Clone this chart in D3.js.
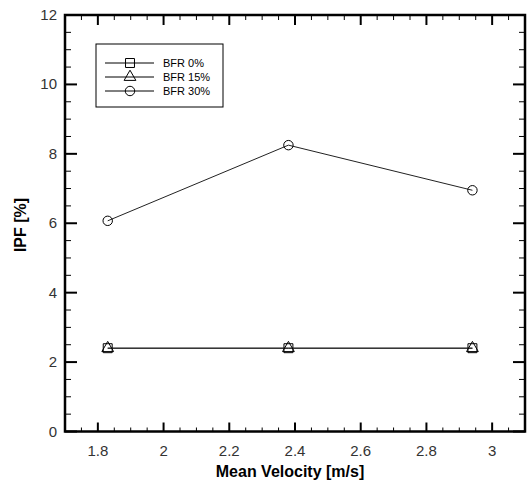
<!DOCTYPE html>
<html>
<head>
<meta charset="utf-8">
<script src="https://cdn.jsdelivr.net/npm/d3@7"></script>
<style>
  body { margin: 0; background: #fff; }
  text { font-family: Arial, "Liberation Sans", sans-serif; }
</style>
</head>
<body>
<div id="chart"></div>
<script>
// data
var velocity = [1.83, 2.38, 2.94];
var bfr0 = [2.4, 2.4, 2.4];
var bfr15 = [2.4, 2.4, 2.4];
var bfr30 = [6.07, 8.25, 6.95];
var seriesNames = ["BFR 0%", "BFR 15%", "BFR 30%"];
var xTicks = [1.8, 2, 2.2, 2.4, 2.6, 2.8, 3];
var yTicks = [0, 2, 4, 6, 8, 10, 12];

var W = 527, H = 484;
var plotL = 65, plotR = 525, plotT = 15, plotB = 431.5;

var svg = d3.select("#chart").append("svg")
  .attr("width", W).attr("height", H);

var x = d3.scaleLinear().domain([1.7, 3.1]).range([plotL, plotR]);
var y = d3.scaleLinear().domain([0, 12]).range([plotB, plotT]);

var xMinor = d3.range(1.7, 3.1001, 0.05);
var yMinor = d3.range(0, 12.001, 0.5);

// ticks on all four sides, pointing inward
var tickG = svg.append("g").attr("stroke", "#000");
xMinor.forEach(function(v) {
  var major = xTicks.some(function(t) { return Math.abs(t - v) < 1e-6; });
  tickG.append("line").attr("x1", x(v)).attr("x2", x(v))
    .attr("y1", plotB).attr("y2", plotB - (major ? 9 : 4))
    .attr("stroke-width", major ? 2 : 1);
  tickG.append("line").attr("x1", x(v)).attr("x2", x(v))
    .attr("y1", plotT).attr("y2", plotT + (major ? 10 : 5))
    .attr("stroke-width", major ? 2 : 1);
});
yMinor.forEach(function(v) {
  var major = yTicks.indexOf(Math.round(v * 10) / 10) >= 0;
  tickG.append("line").attr("y1", y(v)).attr("y2", y(v))
    .attr("x1", plotL).attr("x2", plotL + (major ? 12 : 6))
    .attr("stroke-width", major ? 2 : 1);
  tickG.append("line").attr("y1", y(v)).attr("y2", y(v))
    .attr("x1", plotR).attr("x2", plotR - (major ? 12 : 6))
    .attr("stroke-width", major ? 2 : 1);
});

// frame
svg.append("rect")
  .attr("x", plotL).attr("y", plotT)
  .attr("width", plotR - plotL).attr("height", plotB - plotT)
  .attr("fill", "none").attr("stroke", "#000").attr("stroke-width", 2.5);

// tick labels
svg.append("g").selectAll("text").data(xTicks).join("text")
  .attr("x", function(d) { return x(d); })
  .attr("y", plotB + 24)
  .attr("text-anchor", "middle")
  .attr("font-size", 15).attr("fill", "#333")
  .text(function(d) { return d; });
svg.append("g").selectAll("text").data(yTicks).join("text")
  .attr("x", plotL - 8)
  .attr("y", function(d) { return y(d) + 5; })
  .attr("text-anchor", "end")
  .attr("font-size", 15).attr("fill", "#333")
  .text(function(d) { return d; });

// axis titles
svg.append("text")
  .attr("x", 290).attr("y", 477)
  .attr("text-anchor", "middle")
  .attr("font-size", 16).attr("font-weight", "bold")
  .text("Mean Velocity [m/s]");
svg.append("text")
  .attr("transform", "translate(26,225) rotate(-90)")
  .attr("text-anchor", "middle")
  .attr("font-size", 16).attr("font-weight", "bold")
  .text("IPF [%]");

var line = d3.line()
  .x(function(d) { return x(d[0]); })
  .y(function(d) { return y(d[1]); });

var allSeries = [bfr0, bfr15, bfr30];
var symbols = [d3.symbolSquare, d3.symbolTriangle, d3.symbolCircle];
var symSizes = [80, 60, 70];

allSeries.forEach(function(vals, i) {
  var pts = velocity.map(function(v, j) { return [v, vals[j]]; });
  svg.append("path").datum(pts)
    .attr("d", line)
    .attr("fill", "none").attr("stroke", "#222").attr("stroke-width", 1);
  svg.append("g").selectAll("path").data(pts).join("path")
    .attr("transform", function(d) { return "translate(" + x(d[0]) + "," + y(d[1]) + ")"; })
    .attr("d", d3.symbol().type(symbols[i]).size(symSizes[i]))
    .attr("fill", "none").attr("stroke", "#000").attr("stroke-width", 1);
});

// legend
var leg = svg.append("g");
leg.append("rect")
  .attr("x", 96).attr("y", 44).attr("width", 127).attr("height", 63)
  .attr("fill", "#fff").attr("stroke", "#000").attr("stroke-width", 1);
var legY = [63, 77, 91];
seriesNames.forEach(function(name, i) {
  leg.append("line").attr("x1", 105).attr("x2", 154)
    .attr("y1", legY[i]).attr("y2", legY[i])
    .attr("stroke", "#000").attr("stroke-width", 1);
  leg.append("path")
    .attr("transform", "translate(130," + legY[i] + ")")
    .attr("d", d3.symbol().type(symbols[i]).size(symSizes[i]))
    .attr("fill", "none").attr("stroke", "#000");
  leg.append("text")
    .attr("x", 163).attr("y", legY[i] + 4)
    .attr("font-size", 11)
    .text(name);
});
</script>
</body>
</html>
